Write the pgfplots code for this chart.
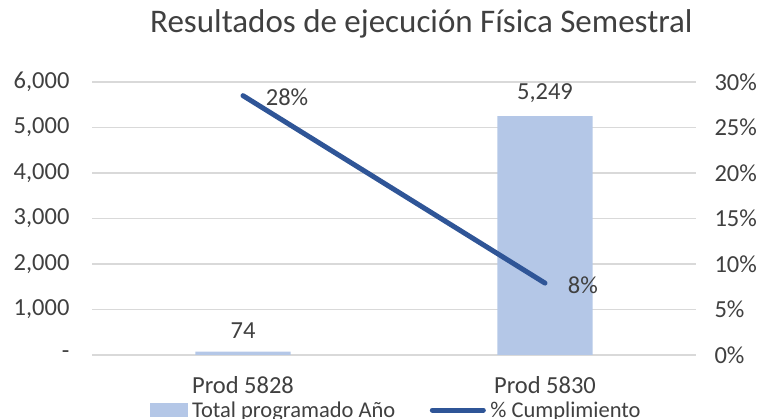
\documentclass[border=0pt]{standalone}
\usepackage{pgfplots}
\pgfplotsset{compat=1.18}
\usepackage{fontspec}
\setmainfont{Carlito}
\definecolor{barfill}{HTML}{B4C7E7}
\definecolor{linec}{HTML}{2F5597}
\definecolor{gridc}{HTML}{D9D9D9}
\definecolor{txt}{HTML}{404040}
\newcommand{\lbl}{\fontsize{24.5}{29}\selectfont}
\newcommand{\leg}{\fontsize{22.5}{27}\selectfont}

\pgfplotsset{
  base/.style={
    at={(92pt,64pt)}, anchor=south west,
    scale only axis, width=604pt, height=273pt,
    xmin=-0.5, xmax=1.5,
    axis line style={draw=none}, major tick length=0pt,
    tick label style={font=\lbl, text=txt},
  },
}

\begin{document}
\begin{tikzpicture}[x=1pt,y=1pt]
\path[use as bounding box] (0,0) rectangle (764,419);
% bars, left axis
\begin{axis}[base,
    ymin=0, ymax=6000,
    xtick={0,1}, xticklabels={Prod 5828,Prod 5830},
    xticklabel style={anchor=base, yshift=-39pt},
    ytick={0,1000,...,6000},
    yticklabels={{-},{1,000},{2,000},{3,000},{4,000},{5,000},{6,000}},
    yticklabel style={xshift=-19pt},
    ymajorgrids, grid style={gridc, line width=1.3pt},
    title={Resultados de ejecución Física Semestral},
    title style={at={(0.096,1.161)}, anchor=base west, inner sep=0pt,
      font=\fontsize{33}{39}\selectfont, text=txt},
]
  \addplot[ybar, bar width=0.315, fill=barfill, draw=none,
    point meta=explicit symbolic, nodes near coords,
    nodes near coords style={font=\lbl, text=txt, anchor=south, yshift=10pt}]
    coordinates {(0,74) [74] (1,5249) [{5,249}]};
\end{axis}
% line, right axis
\begin{axis}[base,
    ymin=0, ymax=30,
    hide x axis,
    yticklabel pos=right,
    ytick={0,5,...,30},
    yticklabels={0\%,5\%,10\%,15\%,20\%,25\%,30\%},
    yticklabel style={xshift=15pt},
    legend columns=2,
    legend style={at={(0.096,-0.2015)}, anchor=west, draw=none, fill=none,
      inner sep=0pt, font=\leg, text=txt, column sep=0pt, nodes={inner xsep=4.5pt},
      /tikz/every even column/.append style={column sep=30pt}},
]
  \addlegendimage{legend image code/.code={\fill[barfill] (0pt,-6.5pt) rectangle (37pt,6.5pt);}}
  \addlegendentry{Total programado Año}
  \addplot[linec, line width=5pt, line cap=round,
    point meta=explicit symbolic, nodes near coords,
    nodes near coords style={font=\lbl, text=txt, anchor=west, xshift=17pt, yshift=-2pt},
    legend image code/.code={\draw[linec, line width=5pt, line cap=round] (2.5pt,0pt) -- (53.5pt,0pt);}]
    coordinates {(0,28.5) [28\%] (1,7.9) [8\%]};
  \addlegendentry{\% Cumplimiento}
\end{axis}
\end{tikzpicture}
\end{document}
